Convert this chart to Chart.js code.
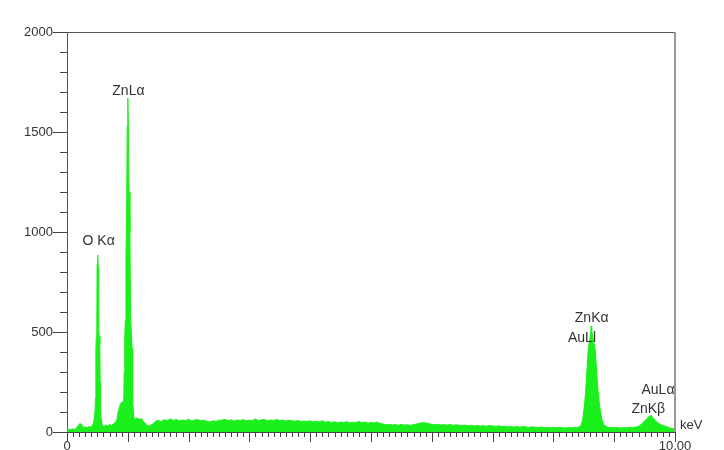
<!DOCTYPE html>
<html lang="en">
<head>
  <meta charset="UTF-8" />
  <title>EDS spectrum</title>
  <script src="https://cdn.jsdelivr.net/npm/chart.js"></script>
  <style>
    body { margin: 0; background: #fff; }
    #wrap { width: 724px; height: 450px; }
  </style>
</head>
<body>
<div id="wrap"><canvas id="spectrum" width="724" height="450"></canvas></div>

<script>
  // energy axis (keV)
  const energyKeV = [
    0.00, 0.03, 0.06, 0.09, 0.12, 0.15, 0.18, 0.21, 0.24, 0.27, 0.30, 0.33, 0.36, 0.39,
    0.42, 0.44, 0.46, 0.47, 0.475, 0.48, 0.49, 0.495, 0.505, 0.515, 0.52, 0.53, 0.54, 0.545, 0.55, 0.56, 0.58,
    0.61, 0.64, 0.67, 0.70, 0.73, 0.76, 0.79,
    0.82, 0.84, 0.86, 0.88, 0.90, 0.92, 0.935, 0.94, 0.95, 0.96, 0.97, 0.98, 0.99, 1.00, 1.01, 1.02, 1.035, 1.045, 1.06, 1.07, 1.08, 1.10,
    1.13, 1.16, 1.19, 1.22, 1.25, 1.28, 1.31, 1.34, 1.37, 1.40, 1.43, 1.46,
    1.50, 1.55, 1.60, 1.65, 1.70, 1.75, 1.80, 1.85, 1.90, 1.95,
    2.00, 2.05, 2.10, 2.15, 2.20, 2.25, 2.30, 2.35, 2.40, 2.45,
    2.50, 2.55, 2.60, 2.65, 2.70, 2.75, 2.80, 2.85, 2.90, 2.95,
    3.00, 3.05, 3.10, 3.15, 3.20, 3.25, 3.30, 3.35, 3.40, 3.45,
    3.50, 3.55, 3.60, 3.65, 3.70, 3.75, 3.80, 3.85, 3.90, 3.95,
    4.00, 4.05, 4.10, 4.15, 4.20, 4.25, 4.30, 4.35, 4.40, 4.45,
    4.50, 4.55, 4.60, 4.65, 4.70, 4.75, 4.80, 4.85, 4.90, 4.95,
    5.00, 5.05, 5.10, 5.15, 5.20, 5.25, 5.30, 5.35, 5.40, 5.45,
    5.50, 5.55, 5.60, 5.65, 5.70, 5.75, 5.80, 5.85, 5.90, 5.95,
    6.00, 6.05, 6.10, 6.15, 6.20, 6.25, 6.30, 6.35, 6.40, 6.45,
    6.50, 6.55, 6.60, 6.65, 6.70, 6.75, 6.80, 6.85, 6.90, 6.95,
    7.00, 7.05, 7.10, 7.15, 7.20, 7.25, 7.30, 7.35, 7.40, 7.45,
    7.50, 7.55, 7.60, 7.65, 7.70, 7.75, 7.80, 7.85, 7.90, 7.95,
    8.00, 8.05, 8.10, 8.15, 8.20, 8.25, 8.30, 8.35,
    8.40,
    8.45, 8.48, 8.51, 8.53, 8.55, 8.57, 8.59, 8.61, 8.62, 8.63, 8.65, 8.67, 8.69, 8.71, 8.73, 8.75, 8.77, 8.80, 8.83,
    8.88, 8.92, 8.96, 9.00, 9.05, 9.10, 9.15, 9.20, 9.25, 9.30, 9.35,
    9.40, 9.45, 9.50, 9.54, 9.58, 9.61, 9.64, 9.68, 9.72, 9.78, 9.85, 9.92, 10.00
  ];

  // counts, same order as energyKeV
  const counts = [
    10, 14, 12, 16, 13, 18, 30, 42, 38, 22, 26, 20, 28, 24,
    35, 50, 100, 170, 400, 470, 500, 840, 885, 820, 520, 480, 440, 250, 130, 70, 35,
    28, 35, 30, 38, 33, 40, 45,
    60, 100, 120, 140, 150, 145, 170, 300, 470, 560, 900, 1060, 1530, 1670, 1520, 1200, 1000, 600, 480, 420, 150, 70,
    65, 70, 62, 68, 55, 45, 35, 30, 33, 38, 45, 55,
    58, 52, 62, 56, 66, 58, 63, 55, 60, 57,
    64, 55, 60, 62, 56, 59, 54, 50, 56, 53,
    58, 60, 63, 57, 61, 55, 60, 58, 62, 56,
    60, 58, 65, 57, 61, 63, 56, 60, 58, 62,
    57, 60, 55, 59, 56, 54, 58, 52, 55, 53,
    56, 50, 54, 51, 56, 49, 52, 48, 51, 46,
    50, 47, 52, 45, 49, 47, 53, 46, 50, 44,
    48, 45, 50, 43, 40, 36, 38, 35, 37, 34,
    38, 35, 36, 33, 37, 40, 44, 47, 45, 42,
    38, 36, 39, 35, 37, 34, 38, 33, 36, 34,
    32, 35, 31, 34, 30, 33, 30, 32, 29, 33,
    30, 28, 31, 27, 29, 26, 28, 25, 27, 24,
    27, 25, 23, 26, 24, 22, 25, 22, 24, 21,
    23, 21, 24, 22, 20, 23, 21, 24,
    23,
    30, 60, 130, 200, 300, 400, 450, 480, 530, 510, 470, 440, 400, 310, 220, 160, 110, 60, 35,
    26, 22, 24, 21, 23, 20, 22, 21, 24, 22, 25,
    28, 40, 55, 68, 80, 82, 70, 55, 45, 35, 28, 20, 15
  ];

  // peak labels: text, energy (keV), counts where the label sits
  const peakNames = ["O K\u03b1", "ZnL\u03b1", "ZnK\u03b1", "AuLl", "AuL\u03b1", "ZnK\u03b2"];
  const peakAtKeV = [0.52, 1.01, 8.63, 8.47, 9.72, 9.56];
  const peakAtCounts = [955, 1705, 570, 470, 210, 115];

  const FONT = '"Liberation Sans", Arial, sans-serif';
  const GREEN = '#1cf01c';

  // tick marks (short/long) + frame + peak labels
  const decor = {
    id: 'decor',
    afterDraw(chart) {
      const c = chart.ctx, a = chart.chartArea;
      const xs = chart.scales.x, ys = chart.scales.y;
      c.save();
      c.strokeStyle = '#444';
      c.lineWidth = 1;
      c.beginPath();
      xs.ticks.forEach(t => {
        const px = Math.round(xs.getPixelForValue(t.value)) + 0.5;
        const major = Math.abs(t.value - Math.round(t.value)) < 1e-6;
        c.moveTo(px, a.bottom);
        c.lineTo(px, a.bottom + (major ? 10 : 5));
      });
      ys.ticks.forEach(t => {
        const py = Math.round(ys.getPixelForValue(t.value)) + 0.5;
        const major = t.value % 500 === 0;
        c.moveTo(a.left, py);
        c.lineTo(a.left - (major ? 14 : 7), py);
      });
      c.stroke();

      // top + right frame
      c.strokeStyle = '#555';
      c.beginPath();
      c.moveTo(a.left, a.top + 0.5);
      c.lineTo(a.right, a.top + 0.5);
      c.stroke();
      c.strokeStyle = '#999';
      c.lineWidth = 2;
      c.beginPath();
      c.moveTo(a.right, a.top);
      c.lineTo(a.right, a.bottom);
      c.stroke();

      c.fillStyle = '#333';
      c.font = '14px ' + FONT;
      c.textAlign = 'center';
      c.textBaseline = 'middle';
      peakNames.forEach((name, i) => {
        c.fillText(name, xs.getPixelForValue(peakAtKeV[i]), ys.getPixelForValue(peakAtCounts[i]));
      });
      c.font = '13px ' + FONT;
      c.textAlign = 'left';
      c.fillText('keV', a.right + 5, a.bottom - 7);
      c.restore();
    }
  };

  new Chart(document.getElementById('spectrum'), {
    type: 'line',
    data: {
      datasets: [{
        data: energyKeV.map((e, i) => ({ x: e, y: counts[i] })),
        borderColor: GREEN,
        backgroundColor: GREEN,
        borderWidth: 1,
        fill: 'origin',
        pointRadius: 0,
        tension: 0
      }]
    },
    options: {
      responsive: false,
      animation: false,
      layout: { padding: { top: 32, right: 49, left: 0, bottom: 0 } },
      plugins: { legend: { display: false }, tooltip: { enabled: false } },
      scales: {
        x: {
          type: 'linear', min: 0, max: 10,
          afterFit: s => { s.height = 18; },
          grid: { display: false, drawTicks: true, tickLength: 5 },
          border: { display: true, color: '#444' },
          ticks: {
            stepSize: 0.1, autoSkip: false, maxRotation: 0, padding: 2,
            color: '#333', font: { family: FONT, size: 13 },
            callback: v => v === 0 ? '0' : (Math.abs(v - 10) < 1e-6 ? '10.00' : '')
          }
        },
        y: {
          min: 0, max: 2000,
          afterFit: s => { s.width = 67; },
          grid: { display: false, drawTicks: true, tickLength: 14 },
          border: { display: true, color: '#555' },
          ticks: {
            stepSize: 100, autoSkip: false, padding: 0,
            color: '#333', font: { family: FONT, size: 13 },
            callback: v => v % 500 === 0 ? String(v) : ''
          }
        }
      }
    },
    plugins: [decor]
  });
</script>
</body>
</html>
